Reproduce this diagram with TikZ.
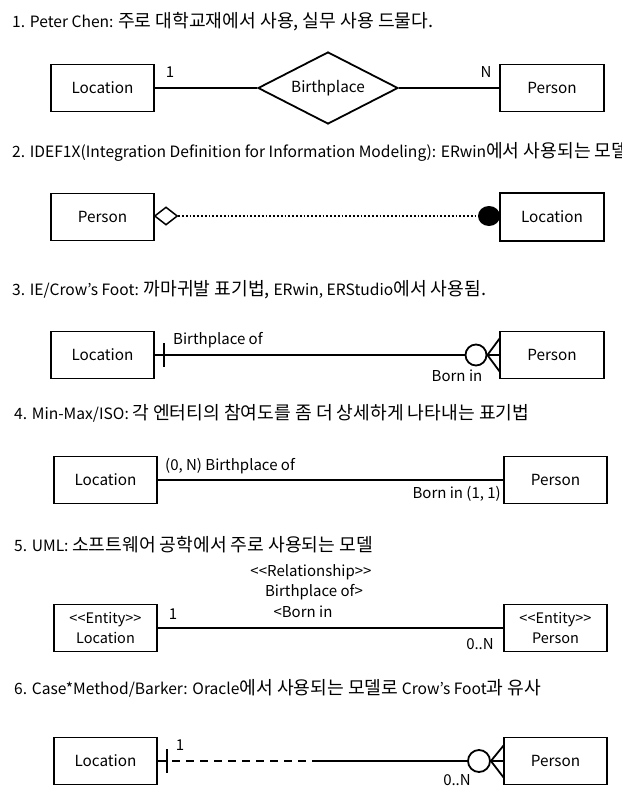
\documentclass[tikz,border=0pt]{standalone}
\usepackage{fontspec}
\setmainfont{Noto Sans CJK KR}
\usetikzlibrary{shapes.geometric}
\newcommand\krtxt[1]{{\fontsize{18.2}{20}\selectfont #1}}
\begin{document}
\begin{tikzpicture}[x=1pt,y=-1pt,
  title/.style={anchor=west,inner sep=0pt,font=\fontsize{15.6}{18}\selectfont},
  ent/.style={draw,line width=1.8pt,minimum height=47pt,inner sep=0pt,font=\fontsize{15.3}{18}\selectfont,align=center},
  lbl/.style={inner sep=0pt,font=\fontsize{15}{18}\selectfont},
  conn/.style={line width=1.8pt}]
\useasboundingbox (0,0) rectangle (621,808);
\clip (0,0) rectangle (621,808);
% ---- 1
\node[title] (t1) at (12,22) {1. Peter Chen: \krtxt{주로 대학교재에서 사용, 실무 사용 드물다.}};
\node[ent,minimum width=103pt] (l1) at (102.5,88) {Location};
\node[draw,diamond,line width=1.8pt,minimum width=140pt,minimum height=72pt,inner sep=0pt,aspect=2,font=\fontsize{15.3}{18}\selectfont] (r1) at (328,88) {Birthplace};
\node[ent,minimum width=104pt] (p1) at (552,88) {Person};
\draw[conn] (l1) -- (r1);
\draw[conn] (r1) -- (p1);
\node[lbl] (c1a) at (170,72) {1};
\node[lbl] (c1b) at (486,72) {N};
% ---- 2
\node[title] (t2) at (12,152) {2. IDEF1X(Integration Definition for Information Modeling): ERwin\krtxt{에서 사용되는 모델}};
\node[ent,minimum width=103pt] (p2) at (102.5,217) {Person};
\node[ent,minimum width=104pt] (l2) at (552,217) {Location};
\node[draw,diamond,line width=1.5pt,minimum width=23pt,minimum height=18pt,inner sep=0pt] (d2) at (166,216) {};
\fill (489,216) ellipse (11pt and 10pt);
\coordinate (e2) at (479,216);
\draw[line width=1.8pt,dotted] (d2.east) -- (e2);
\draw[ent] (500,193) rectangle (604,241);
% ---- 3
\node[title] (t3) at (12,290) {3. IE/Crow’s Foot: \krtxt{까마귀발 표기법,} ERwin, ERStudio\krtxt{에서 사용됨.}};
\node[ent,minimum width=103pt] (l3) at (102.5,355) {Location};
\node[ent,minimum width=104pt] (p3) at (552,355) {Person};
\node[draw,circle,line width=1.8pt,minimum size=21pt,inner sep=0pt] (o3) at (476,355) {};
\draw[conn] (l3) -- (o3);
\draw[conn] (164,343) -- (164,367);
\draw[conn] (o3.east) -- (p3.west);
\draw[conn] (o3.east) -- (500,338);
\draw[conn] (o3.east) -- (500,372);
\node[lbl,anchor=west] (b3a) at (173,340) {Birthplace of};
\node[lbl] (b3b) at (457,376) {Born in};
% ---- 4
\node[title] (t4) at (14,413) {4. Min-Max/ISO: \krtxt{각 엔터티의 참여도를 좀 더 상세하게 나타내는 표기법}};
\node[ent,minimum width=103pt] (l4) at (105.5,480) {Location};
\node[ent,minimum width=103pt] (p4) at (555.5,480) {Person};
\draw[conn] (l4) -- (p4);
\node[lbl,anchor=west] (b4a) at (165,466) {(0, N) Birthplace of};
\node[lbl,anchor=east] (b4b) at (501,494) {Born in (1, 1)};
% ---- 5
\node[title] (t5) at (14,545) {5. UML: \krtxt{소프트웨어 공학에서 주로 사용되는 모델}};
\node[lbl] (r5a) at (311,572) {<{}<Relationship>{}>};
\node[lbl] (r5b) at (314,592) {Birthplace of>};
\node[lbl] (r5c) at (303,612) {<Born in};
\node[ent,minimum width=103pt,font=\fontsize{14.5}{20}\selectfont] (l5) at (105.5,628) {<{}<Entity>{}>\\Location};
\node[ent,minimum width=103pt,font=\fontsize{14.5}{20}\selectfont] (p5) at (555.5,628) {<{}<Entity>{}>\\Person};
\draw[conn] (l5) -- (p5);
\node[lbl] (c5a) at (173,614) {1};
\node[lbl] (c5b) at (480,644) {0..N};
% ---- 6
\node[title] (t6) at (14,688) {6. Case*Method/Barker: Oracle\krtxt{에서 사용되는 모델로} Crow’s Foot\krtxt{과 유사}};
\node[ent,minimum width=103pt] (l6) at (105.5,761) {Location};
\node[ent,minimum width=103pt] (p6) at (555.5,761) {Person};
\node[draw,circle,line width=1.8pt,minimum size=22pt,inner sep=0pt] (o6) at (479,761) {};
\coordinate (m6) at (313,761);
\draw[conn] (l6) -- (166,761);
\draw[conn,dash pattern=on 8pt off 6pt] (172,761) -- (m6);
\draw[conn] (m6) -- (o6);
\draw[conn] (167,749) -- (167,773);
\draw[conn] (o6.east) -- (p6.west);
\draw[conn] (o6.east) -- (504,745);
\draw[conn] (o6.east) -- (504,778);
\node[lbl] (c6a) at (180,745) {1};
\node[lbl] (c6b) at (457,780) {0..N};
\end{tikzpicture}
\end{document}
